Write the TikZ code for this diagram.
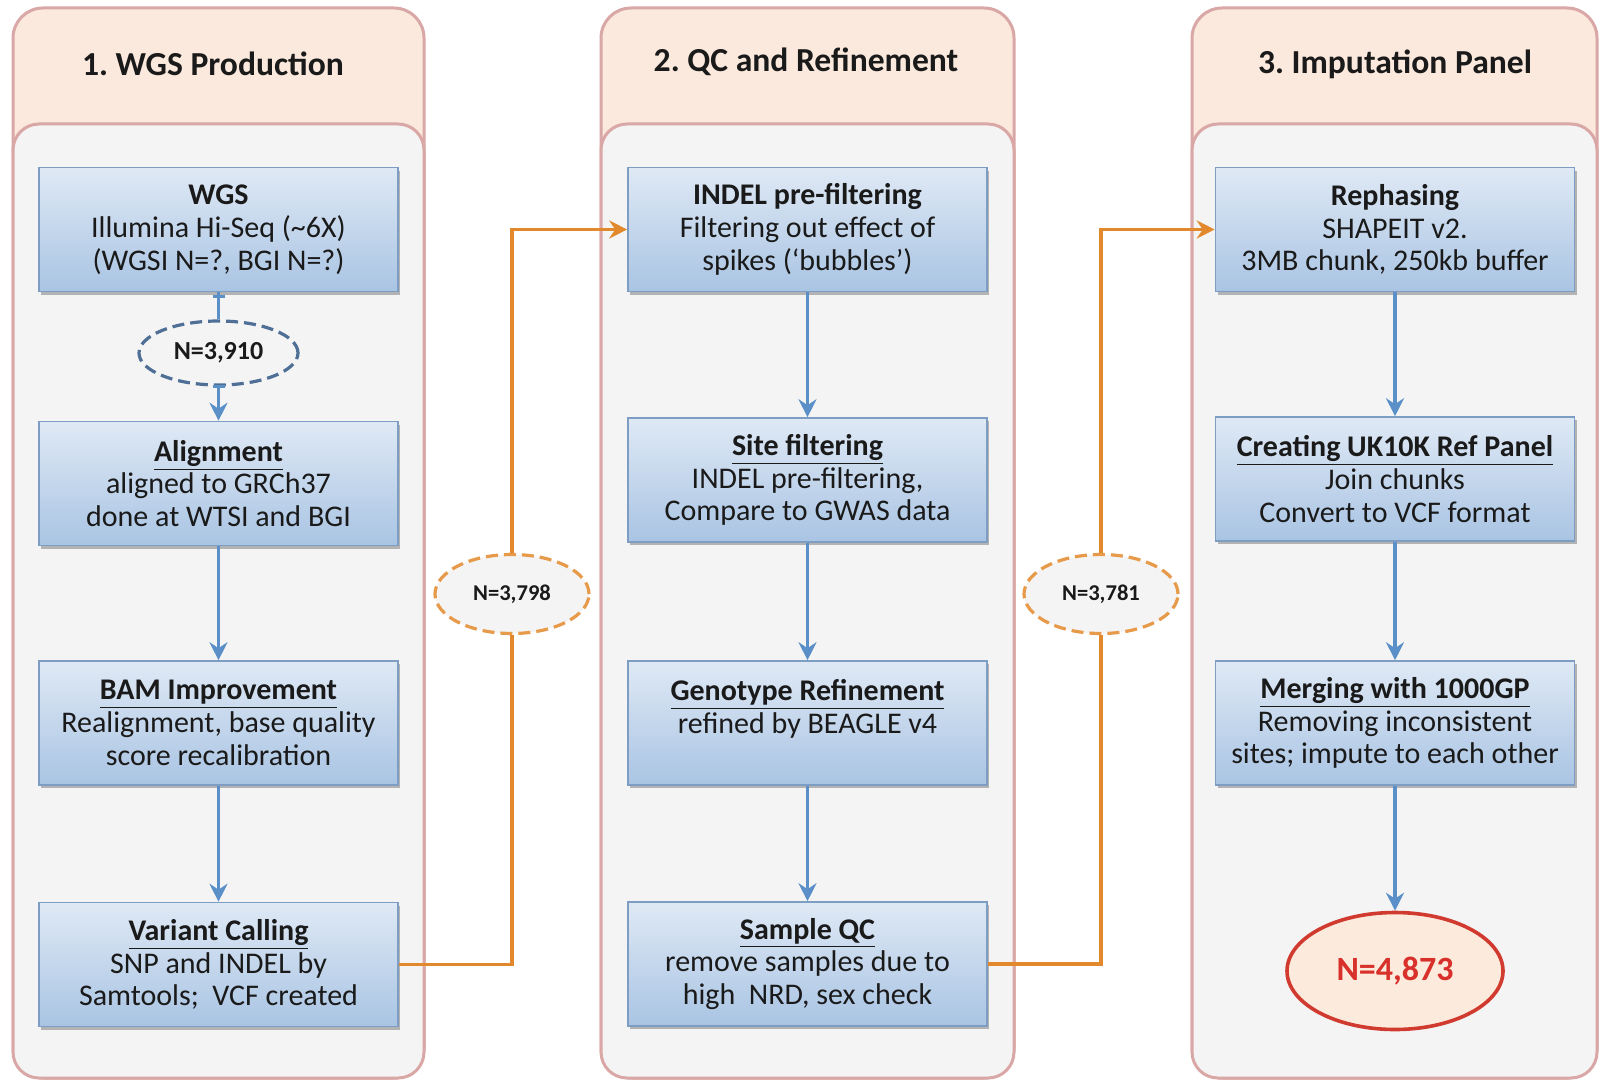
\documentclass[tikz,border=0pt]{standalone}
\usepackage{fontspec}
\setmainfont{Carlito}
\usetikzlibrary{shapes.geometric,arrows.meta,shadows}
\definecolor{peach}{HTML}{FBE9DD}
\definecolor{panelgrey}{HTML}{F4F4F4}
\definecolor{panelborder}{HTML}{D9A7A5}
\definecolor{boxtop}{HTML}{DFE9F5}
\definecolor{boxbot}{HTML}{A9C4E3}
\definecolor{boxborder}{HTML}{7E9DC2}
\definecolor{arrowblue}{HTML}{5B8FC7}
\definecolor{dashblue}{HTML}{4F6F96}
\definecolor{orangeline}{HTML}{E3892D}
\definecolor{orangedash}{HTML}{E69A4A}
\definecolor{redline}{HTML}{D03A2F}
\definecolor{redtext}{HTML}{D8302A}
\definecolor{redfill}{HTML}{FCEBDD}
\definecolor{txt}{HTML}{1A1A1A}
\frenchspacing
\tikzset{
  outerpanel/.style={fill=peach,draw=panelborder,line width=1.5pt,rounded corners=15pt},
  innerpanel/.style={fill=panelgrey,draw=panelborder,line width=1.5pt,rounded corners=13pt},
  header/.style={font=\fontsize{16.8}{20}\selectfont\bfseries,text=txt},
  stepbox/.style={rectangle,draw=boxborder,line width=0.8pt,top color=boxtop,bottom color=boxbot,
    minimum width=179.5pt,minimum height=62pt,align=center,text=txt,
    font=\fontsize{15}{16.4}\selectfont,inner sep=2pt,
    drop shadow={shadow xshift=1pt,shadow yshift=-1.5pt,opacity=0.45,fill=black!60}},
  blueflow/.style={draw=arrowblue,line width=1.6pt},
  bluearrow/.style={blueflow,-{Stealth[length=9pt,width=9pt,inset=3pt]}},
  orangeflow/.style={draw=orangeline,line width=1.6pt},
  orangearrow/.style={orangeflow,-{Stealth[length=9pt,width=9pt,inset=3pt]}},
  countblue/.style={ellipse,draw=dashblue,line width=1.6pt,dash pattern=on 6pt off 3pt,fill=panelgrey,
    minimum width=79.5pt,minimum height=32pt,inner sep=0pt,font=\fontsize{13}{15}\selectfont\bfseries,text=txt},
  countorange/.style={ellipse,draw=orangedash,line width=1.6pt,dash pattern=on 6pt off 3pt,fill=panelgrey,
    minimum width=77pt,minimum height=39.5pt,inner sep=0pt,font=\fontsize{11.3}{13}\selectfont\bfseries,text=txt},
  countred/.style={ellipse,draw=redline,line width=1.8pt,fill=redfill,
    minimum width=108pt,minimum height=58.5pt,inner sep=0pt,font=\fontsize{17}{20}\selectfont\bfseries,text=redtext}
}
\begin{document}
\begin{tikzpicture}[x=0.5pt,y=-0.5pt]
\useasboundingbox (0,0) rectangle (1600,1081);
\fill[white] (0,0) rectangle (1600,1081);
% panels
\draw[outerpanel] (13,8) rectangle (424,1078);
\draw[innerpanel] (13,124) rectangle (424,1078);
\draw[outerpanel] (601,8) rectangle (1014,1078);
\draw[innerpanel] (601,124) rectangle (1014,1078);
\draw[outerpanel] (1192,8) rectangle (1597,1078);
\draw[innerpanel] (1192,124) rectangle (1597,1078);
% headers
\node[header] (h1) at (213,64) {1. WGS Production};
\node[header] (h2) at (806,62) {2. QC and Refinement};
\node[header] (h3) at (1395,64) {3. Imputation Panel};
% column 1
\node[stepbox] (wgs) at (218.5,229.5) {\textbf{WGS}\\Illumina Hi-Seq (\textasciitilde6X)\\(WGSI N=?, BGI N=?)};
\node[countblue] (n1) at (218.5,353) {N=3,910};
\node[stepbox] (align) at (218.5,483.5) {\textbf{\underline{Alignment}}\\aligned to GRCh37\\done at WTSI and BGI};
\node[stepbox] (bam) at (218.5,723) {\textbf{\underline{BAM Improvement}}\\Realignment, base quality\\score recalibration};
\node[stepbox] (var) at (218.5,964.5) {\textbf{\underline{Variant Calling}}\\SNP and INDEL by\\Samtools;\ \ VCF created};
% column 2
\node[stepbox] (indel) at (807.5,229.5) {\textbf{INDEL pre-filtering}\\Filtering out effect of\\spikes (‘bubbles’)};
\node[stepbox] (site) at (807.5,480) {\textbf{\underline{Site filtering}}\\INDEL pre-filtering,\\Compare to GWAS data};
\node[stepbox] (geno) at (807.5,723) {\textbf{\underline{Genotype Refinement}}\\refined by BEAGLE v4\\\mbox{}};
\node[stepbox] (sqc) at (807.5,964) {\textbf{\underline{Sample QC}}\\remove samples due to\\high\ \ NRD, sex check};
% column 3
\node[stepbox] (reph) at (1395,229.5) {\textbf{Rephasing}\\SHAPEIT v2.\\3MB chunk, 250kb buffer};
\node[stepbox] (ref) at (1395,479) {\textbf{\underline{Creating UK10K Ref Panel}}\\Join chunks\\Convert to VCF format};
\node[stepbox] (merge) at (1395,723) {\textbf{\underline{Merging with 1000GP}}\\Removing inconsistent\\sites; impute to each other};
\node[countred] (final) at (1395,971) {N=4,873};
% between columns
\node[countorange] (n2) at (512,594) {N=3,798};
\node[countorange] (n3) at (1101,594) {N=3,781};
% blue connectors
\draw[blueflow] (wgs.south) -- (n1.north);
\draw[blueflow] ([xshift=-3pt]wgs.south) ++(0,4) -- ++(6pt,0);
\draw[bluearrow] (n1.south) -- (align.north);
\draw[blueflow] ([xshift=-3pt]n1.south) -- ++(6pt,0);
\draw[bluearrow] (align.south) -- (bam.north);
\draw[bluearrow] (bam.south) -- (var.north);
\draw[bluearrow] (indel.south) -- (site.north);
\draw[bluearrow] (site.south) -- (geno.north);
\draw[bluearrow] (geno.south) -- (sqc.north);
\draw[bluearrow] (reph.south) -- (ref.north);
\draw[bluearrow] (ref.south) -- (merge.north);
\draw[bluearrow] (merge.south) -- (final.north);
% orange connectors
\draw[orangeflow] (var.east) -| (n2.south);
\draw[orangearrow] (n2.north) |- (indel.west);
\draw[orangeflow] (sqc.east) -| (n3.south);
\draw[orangearrow] (n3.north) |- (reph.west);
\end{tikzpicture}
\end{document}
